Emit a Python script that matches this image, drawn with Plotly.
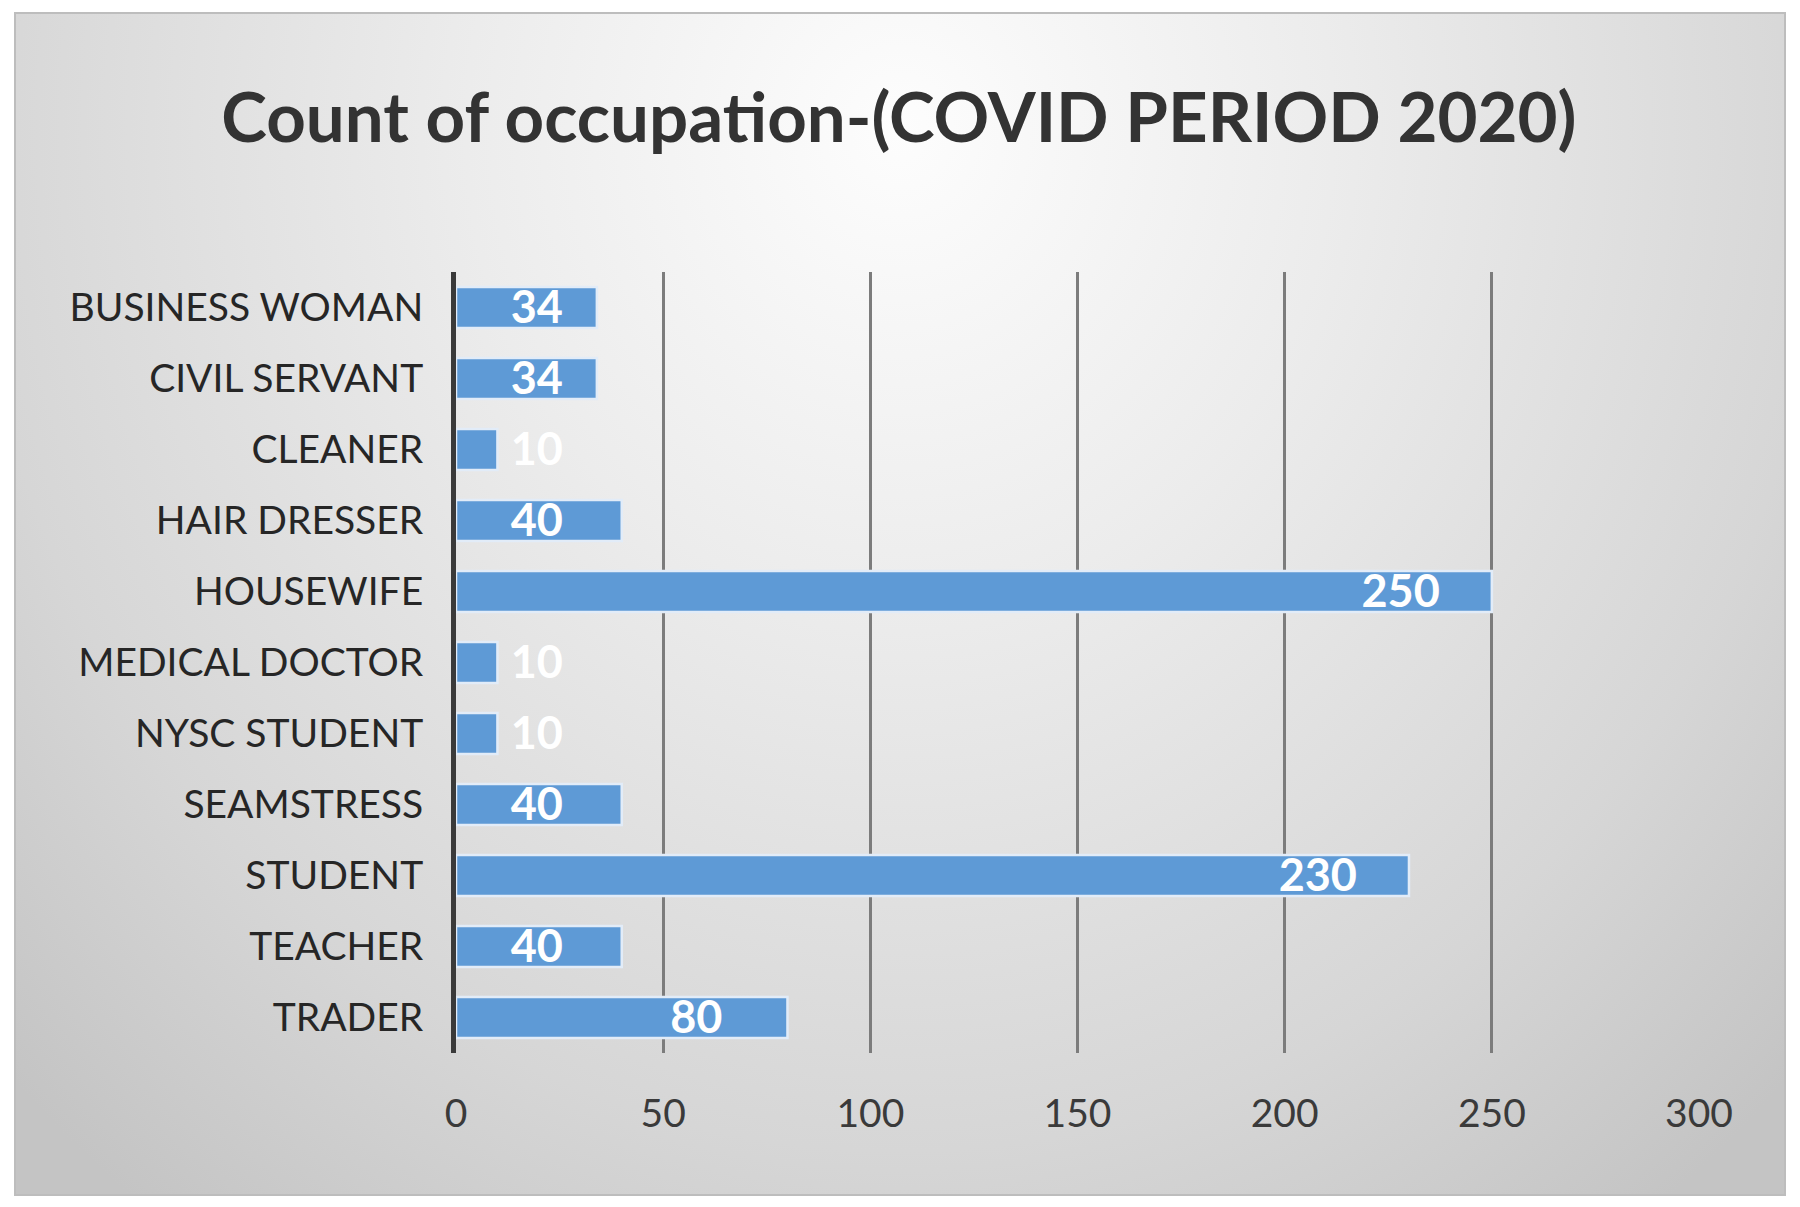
import numpy as np
import plotly.graph_objects as go

categories = ["BUSINESS WOMAN", "CIVIL SERVANT", "CLEANER", "HAIR DRESSER", "HOUSEWIFE",
              "MEDICAL DOCTOR", "NYSC STUDENT", "SEAMSTRESS", "STUDENT", "TEACHER", "TRADER"]
counts = [34, 34, 10, 40, 250, 10, 10, 40, 230, 40, 80]
x_ticks = [0, 50, 100, 150, 200, 250, 300]
title_text = "Count of occupation-(COVID PERIOD 2020)"

W, H = 1800, 1207
FONT = "Lato"

# label positions: inside near bar end, but never left of a minimum offset
vals = np.array(counts, dtype=float)
label_x = np.maximum(vals - 22, 19.5)
label_y = np.arange(len(categories)) + 0.06   # small baseline correction on index axis

fig = go.Figure()

# background gradient panel (subplot xy, drawn underneath)
fig.add_trace(go.Scatter(
    x=[-0.2, 1.2, 1.2, -0.2, -0.2], y=[-0.25, -0.25, 2.05, 2.05, -0.25],
    mode="lines", line=dict(width=0), fill="toself",
    fillgradient=dict(type="radial",
                      colorscale=[[0, "#fdfdfd"], [0.35, "#ececec"], [0.75, "#d6d6d6"], [1, "#c4c4c4"]]),
    hoverinfo="skip", showlegend=False, xaxis="x", yaxis="y"))

# bars
fig.add_trace(go.Bar(
    x=counts, y=categories, orientation="h",
    marker=dict(color="#5e9ad6", line=dict(color="#e2ecf8", width=2.5)),
    showlegend=False, xaxis="x2", yaxis="y2"))

# data labels
fig.add_trace(go.Scatter(
    x=label_x, y=label_y, mode="text", text=[str(c) for c in counts],
    textposition="middle center",
    textfont=dict(family=FONT, size=45, color="white", weight="bold"),
    cliponaxis=False, showlegend=False, hoverinfo="skip", xaxis="x2", yaxis="y3"))

n = len(categories)
fig.update_layout(
    template="none",
    width=W, height=H, autosize=False,
    margin=dict(l=0, r=0, t=0, b=0, pad=0),
    paper_bgcolor="white", plot_bgcolor="rgba(0,0,0,0)",
    bargap=0.42,
    title=dict(text=title_text, x=0.4994, xanchor="center", y=1 - 118 / H, yanchor="middle",
               yref="paper",
               font=dict(family=FONT, size=69, color="#333333", weight="bold")),
    xaxis=dict(domain=[15 / W, 1785 / W], range=[0, 1], visible=False, fixedrange=True,
               automargin=False),
    yaxis=dict(domain=[12 / H, 1194 / H], range=[0, 1], visible=False, fixedrange=True,
               automargin=False),
    xaxis2=dict(domain=[456 / W, 1699 / W], range=[0, 300], anchor="y2", automargin=False,
                tickvals=x_ticks, ticktext=[str(t) for t in x_ticks],
                showgrid=True, gridcolor="#7c7c7c", gridwidth=2.5, zeroline=False,
                showline=False, ticks="", ticklabelstandoff=34,
                tickfont=dict(family=FONT, size=39, color="#3a3a3a")),
    yaxis2=dict(domain=[(H - 1053) / H, (H - 272) / H], anchor="x2", automargin=False,
                categoryorder="array", categoryarray=categories, range=[n - 0.5, -0.5],
                showline=True, linecolor="#3a3a3a", linewidth=5, showgrid=False,
                zeroline=False, ticks="", ticklabelstandoff=20,
                tickfont=dict(family=FONT, size=39, color="#262626")),
    yaxis3=dict(overlaying="y2", anchor="x2", range=[n - 0.5, -0.5], visible=False,
                automargin=False, showgrid=False, zeroline=False),
    shapes=[dict(type="rect", xref="paper", yref="paper",
                 x0=15 / W, x1=1785 / W, y0=12 / H, y1=1194 / H,
                 line=dict(color="#bdbdbd", width=2), fillcolor="rgba(0,0,0,0)", layer="above")],
)

fig.write_html("out.html", config={"responsive": False, "displayModeBar": False},
               post_script="document.body.style.margin='0';document.body.style.overflow='hidden';")
